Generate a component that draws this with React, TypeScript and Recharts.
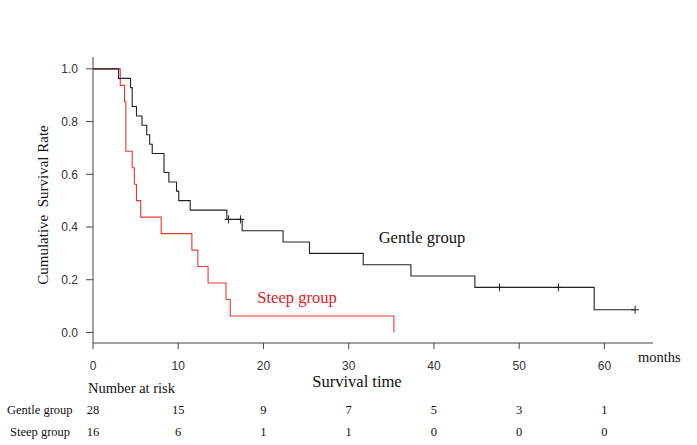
import { ComposedChart, Line, Scatter, XAxis, YAxis } from 'recharts'

// Kaplan-Meier curves
const gentleTimes = [0, 3.0, 4.4, 4.6, 5.1, 5.75, 6.3, 6.65, 6.95, 8.33, 8.9, 9.8, 10.06, 11.4, 15.7, 17.5, 22.3, 25.4, 31.7, 37.3, 44.8, 58.8, 63.6]
const gentleSurv = [1, 0.964, 0.929, 0.857, 0.821, 0.786, 0.75, 0.714, 0.679, 0.607, 0.571, 0.536, 0.5, 0.464, 0.429, 0.386, 0.343, 0.3, 0.257, 0.214, 0.171, 0.086, 0.086]
const gentleCensorTimes = [15.9, 17.3, 47.7, 54.6, 63.6]
const gentleCensorSurv = [0.429, 0.429, 0.171, 0.171, 0.086]

const steepTimes = [0, 3.2, 3.7, 3.85, 4.6, 4.85, 5.1, 5.6, 8.0, 11.6, 12.3, 13.5, 15.6, 16.1, 35.3]
const steepSurv = [1, 0.9375, 0.875, 0.6875, 0.625, 0.5625, 0.5, 0.4375, 0.375, 0.3125, 0.25, 0.1875, 0.125, 0.0625, 0]

const xTicks = [0, 10, 20, 30, 40, 50, 60]
const yTicks = [0, 0.2, 0.4, 0.6, 0.8, 1.0]
const gentleRisk = [28, 15, 9, 7, 5, 3, 1]
const steepRisk = [16, 6, 1, 1, 0, 0, 0]

const gentleData = gentleTimes.map((t, i) => ({ t, s: gentleSurv[i] }))
const steepData = steepTimes.map((t, i) => ({ t, s: steepSurv[i] }))
const censorData = gentleCensorTimes.map((t, i) => ({ t, s: gentleCensorSurv[i] }))

const SANS = '"Liberation Sans", Arial, sans-serif'
const SERIF = '"Liberation Serif", "Times New Roman", serif'
const AXIS = '#444'

const XTick = (props: any) => {
  const { x, y, payload } = props
  const i = xTicks.indexOf(payload.value)
  return (
    <g>
      <text x={x} y={y + 2} textAnchor="middle" dominantBaseline="central" fontFamily={SANS} fontSize={12} fill="#333">
        {payload.value}
      </text>
      <text x={x} y={410} textAnchor="middle" dominantBaseline="central" fontFamily={SERIF} fontSize={12.5} fill="#111">
        {gentleRisk[i]}
      </text>
      <text x={x} y={432} textAnchor="middle" dominantBaseline="central" fontFamily={SERIF} fontSize={12.5} fill="#111">
        {steepRisk[i]}
      </text>
    </g>
  )
}

const Censor = (props: any) => {
  const { cx, cy } = props
  return <path d={`M${cx - 4},${cy}H${cx + 4}M${cx},${cy - 4}V${cy + 4}`} stroke="#222" strokeWidth={1} fill="none" />
}

export default function App() {
  return (
    <div style={{ position: 'fixed', left: 0, top: 0, width: 697, height: 445, background: '#fff' }}>
      <ComposedChart width={697} height={445} margin={{ top: 57, right: 44, bottom: 72, left: 53 }}>
        <XAxis
          type="number"
          dataKey="t"
          domain={[0, 65.7]}
          ticks={xTicks}
          allowDataOverflow
          height={30}
          stroke={AXIS}
          tickSize={6}
          tickMargin={15}
          tick={<XTick />}
        />
        <YAxis
          type="number"
          dataKey="s"
          domain={[-0.04, 1.045]}
          ticks={yTicks}
          allowDataOverflow
          width={40}
          stroke={AXIS}
          tickSize={7}
          tickMargin={8}
          tick={{ fontFamily: SANS, fontSize: 12, fill: '#333' }}
          tickFormatter={(v: number) => v.toFixed(1)}
        />
        <Line data={steepData} dataKey="s" type="stepAfter" stroke="#e53935" strokeWidth={1.1} dot={false} isAnimationActive={false} />
        <Line data={gentleData} dataKey="s" type="stepAfter" stroke="#222" strokeWidth={1.1} dot={false} isAnimationActive={false} />
        <Scatter data={censorData} dataKey="s" shape={<Censor />} isAnimationActive={false} />
      </ComposedChart>
      <svg width={697} height={445} style={{ position: 'absolute', left: 0, top: 0, pointerEvents: 'none' }}>
        <text x={43} y={205} transform="rotate(-90 43 205)" textAnchor="middle" dominantBaseline="central" fontFamily={SERIF} fontSize={15} fill="#111">
          {'Cumulative\u00a0\u00a0Survival Rate'}
        </text>
        <text x={422} y={237} textAnchor="middle" dominantBaseline="central" fontFamily={SERIF} fontSize={16.5} fill="#111">Gentle group</text>
        <text x={297} y={297} textAnchor="middle" dominantBaseline="central" fontFamily={SERIF} fontSize={16.5} fill="#e0201e">Steep group</text>
        <text x={638} y={357} dominantBaseline="central" fontFamily={SERIF} fontSize={14.5} fill="#111">months</text>
        <text x={357} y={381} textAnchor="middle" dominantBaseline="central" fontFamily={SERIF} fontSize={16.5} fill="#111">Survival time</text>
        <text x={88} y={388} dominantBaseline="central" fontFamily={SERIF} fontSize={14.5} fill="#111">Number at risk</text>
        <text x={7} y={410} dominantBaseline="central" fontFamily={SERIF} fontSize={12.5} fill="#111">Gentle group</text>
        <text x={10} y={432} dominantBaseline="central" fontFamily={SERIF} fontSize={12.5} fill="#111">Steep group</text>
      </svg>
    </div>
  )
}
